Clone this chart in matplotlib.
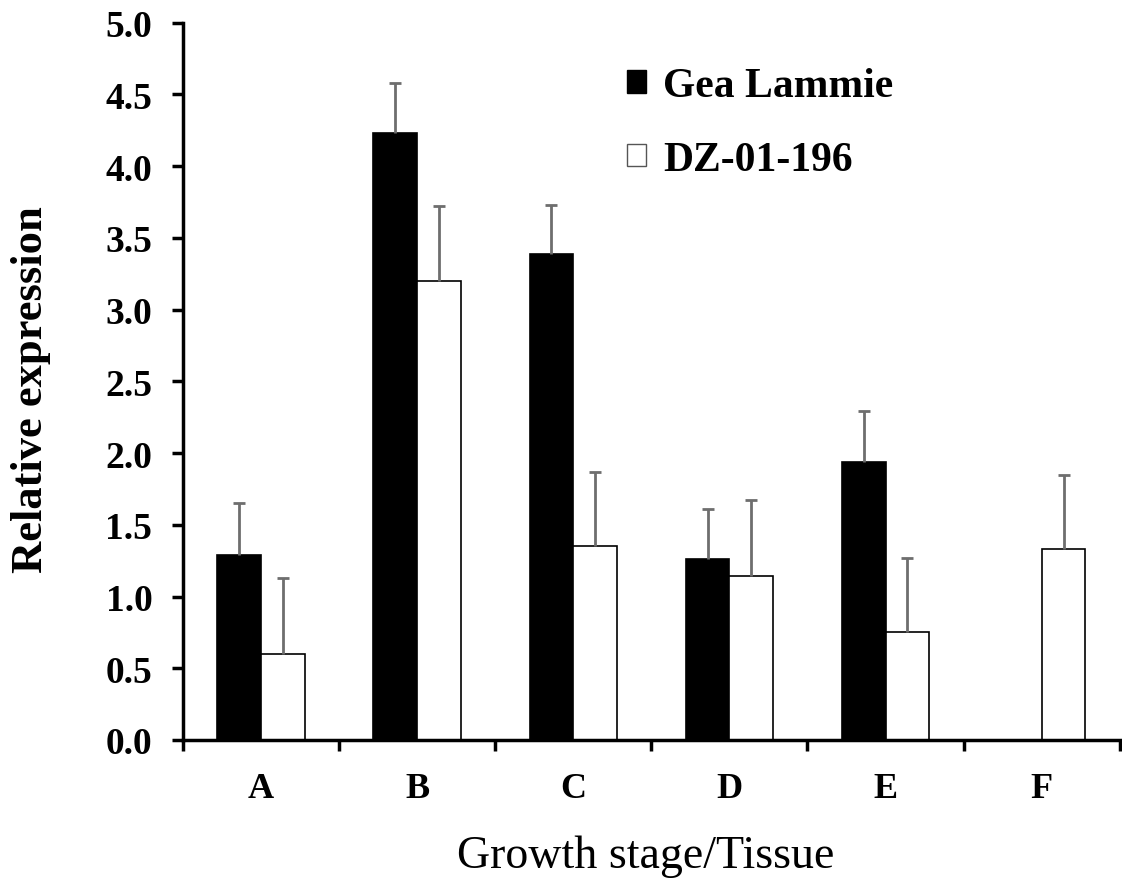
import matplotlib.pyplot as plt
from matplotlib.patches import Patch
import numpy as np

# data
stages = ["A", "B", "C", "D", "E", "F"]
gea_lammie = [1.29, 4.23, 3.39, 1.26, 1.94, np.nan]
gea_err = [0.36, 0.35, 0.34, 0.35, 0.35, np.nan]
dz_01_196 = [0.60, 3.20, 1.35, 1.14, 0.75, 1.33]
dz_err = [0.53, 0.52, 0.52, 0.53, 0.52, 0.52]

plt.rcParams['font.family'] = ['Liberation Serif', 'DejaVu Serif']

fig = plt.figure(figsize=(11.22, 8.79), dpi=100)
ax = fig.add_axes([0.163, 0.157, 0.835, 0.816])

x = np.arange(len(stages))
w = 0.28
ax.bar(x - w/2, gea_lammie, w, color='black', edgecolor='black', linewidth=1.2)
ax.bar(x + w/2, dz_01_196, w, color='white', edgecolor='black', linewidth=1.2)

zeros = np.zeros(len(stages))
for xs, vals, errs in [(x - w/2, gea_lammie, gea_err), (x + w/2, dz_01_196, dz_err)]:
    eb = ax.errorbar(xs, vals, yerr=[zeros, errs], fmt='none',
                     ecolor='#6e6e6e', elinewidth=2, capsize=4.5, capthick=2)
    # only the upper cap is shown
    eb[1][0].set_visible(False)

ax.set_xlim(-0.5, len(stages) - 0.5)
ax.set_ylim(0, 5.0)
ax.set_yticks(np.arange(0, 5.01, 0.5))
ax.set_yticklabels([f"{v:.1f}" for v in np.arange(0, 5.01, 0.5)],
                   fontsize=27, fontweight='bold')
ax.set_xticks(np.arange(-0.5, len(stages), 1.0))
ax.set_xticklabels([])
ax.set_xticks(x, minor=True)
ax.set_xticklabels(stages, minor=True, fontsize=26, fontweight='bold')
ax.tick_params(axis='x', which='minor', length=0, pad=23)
ax.tick_params(axis='x', which='major', length=8, width=2.5, direction='out')
ax.tick_params(axis='y', length=8, width=2.5, direction='out', pad=14)

for side in ['top', 'right']:
    ax.spines[side].set_visible(False)
for side in ['left', 'bottom']:
    ax.spines[side].set_linewidth(2.5)

fig.text(31/1122, 1 - 390/879, "Relative expression", rotation=90,
         ha='center', va='center', fontsize=32, fontweight='bold')
fig.text(646/1122, 1 - 857/879, "Growth stage/Tissue",
         ha='center', va='center', fontsize=33)

handles = [Patch(facecolor='black', edgecolor='black'),
           Patch(facecolor='white', edgecolor='#555555')]
ax.legend(handles, ["Gea Lammie", "DZ-01-196"], loc='upper left',
          bbox_to_anchor=(0.434, 0.99), frameon=False,
          prop={'size': 30, 'weight': 'bold'}, handlelength=0.45,
          handleheight=0.45, handletextpad=0.42, labelspacing=0.85)

fig.savefig("out.png", dpi=100)
